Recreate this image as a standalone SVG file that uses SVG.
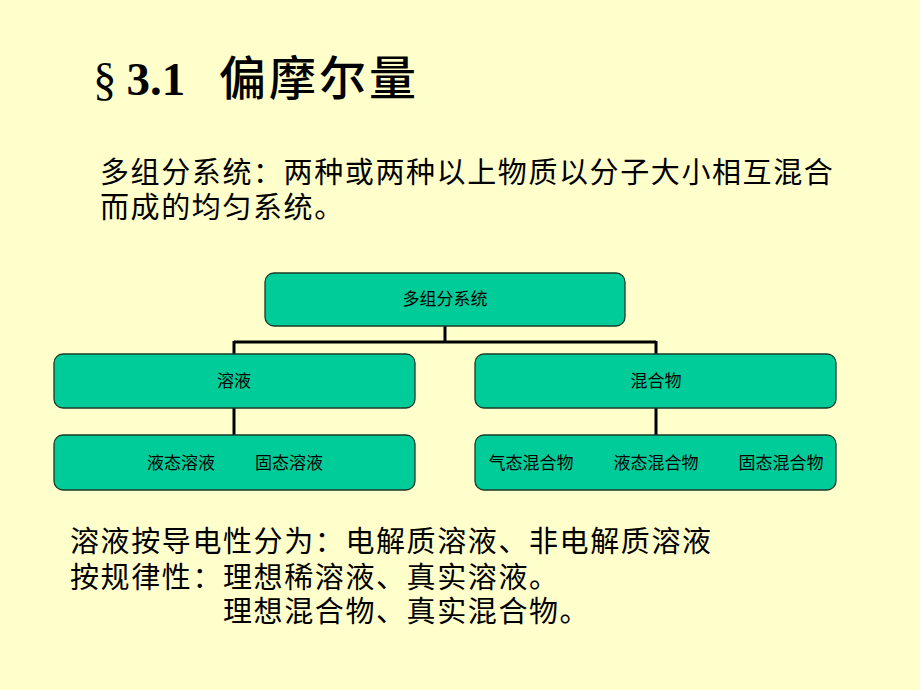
<svg xmlns="http://www.w3.org/2000/svg" width="920" height="690" viewBox="0 0 920 690">
<style>
.bg{fill:#FFFFCC}
.box{fill:#00CC99;stroke:#1a3a2a;stroke-width:1.3}
.lbl{font-family:"Noto Sans CJK SC","Liberation Sans",sans-serif;font-size:17px;fill:#000;text-anchor:middle}
.body{font-family:"Noto Sans CJK SC","Liberation Sans",sans-serif;font-size:29px;fill:#000;letter-spacing:1.6px}
.conn{fill:none;stroke:#000;stroke-width:3}
</style>
<rect class="bg" x="0" y="0" width="920" height="690"/>
<text x="93" y="95" font-size="47" fill="#000"><tspan font-family="Liberation Serif, serif">§</tspan><tspan font-family="Liberation Serif, serif" font-weight="bold" dx="10">3.1</tspan><tspan font-family="Noto Sans CJK SC, sans-serif" font-weight="500" x="219" letter-spacing="3">偏摩尔量</tspan></text>
<text class="body" x="100" y="183">多组分系统：两种或两种以上物质以分子大小相互混合</text>
<text class="body" x="100" y="218">而成的均匀系统。</text>
<g id="connectors">
<path class="conn" d="M445,326 V342 M234,342 H656 M234,341 V354 M656,341 V354 M234,408 V435 M656,408 V435"/>
</g>
<g id="node-root">
<rect class="box" x="265" y="273" width="360" height="53" rx="9"/>
<text class="lbl" x="445" y="305">多组分系统</text>
</g>
<g id="node-solution">
<rect class="box" x="54" y="354" width="361" height="54" rx="9"/>
<text class="lbl" x="234" y="387">溶液</text>
</g>
<g id="node-mixture">
<rect class="box" x="475" y="354" width="361" height="54" rx="9"/>
<text class="lbl" x="656" y="387">混合物</text>
</g>
<g id="node-solution-types">
<rect class="box" x="54" y="435" width="361" height="55" rx="9"/>
<text class="lbl" x="181" y="469">液态溶液</text>
<text class="lbl" x="289" y="469">固态溶液</text>
</g>
<g id="node-mixture-types">
<rect class="box" x="475" y="435" width="361" height="55" rx="9"/>
<text class="lbl" x="531" y="469">气态混合物</text>
<text class="lbl" x="656" y="469">液态混合物</text>
<text class="lbl" x="781" y="469">固态混合物</text>
</g>
<text class="body" x="70" y="552">溶液按导电性分为：电解质溶液、非电解质溶液</text>
<text class="body" x="70" y="588">按规律性：理想稀溶液、真实溶液。</text>
<text class="body" x="223" y="622">理想混合物、真实混合物。</text>
</svg>
